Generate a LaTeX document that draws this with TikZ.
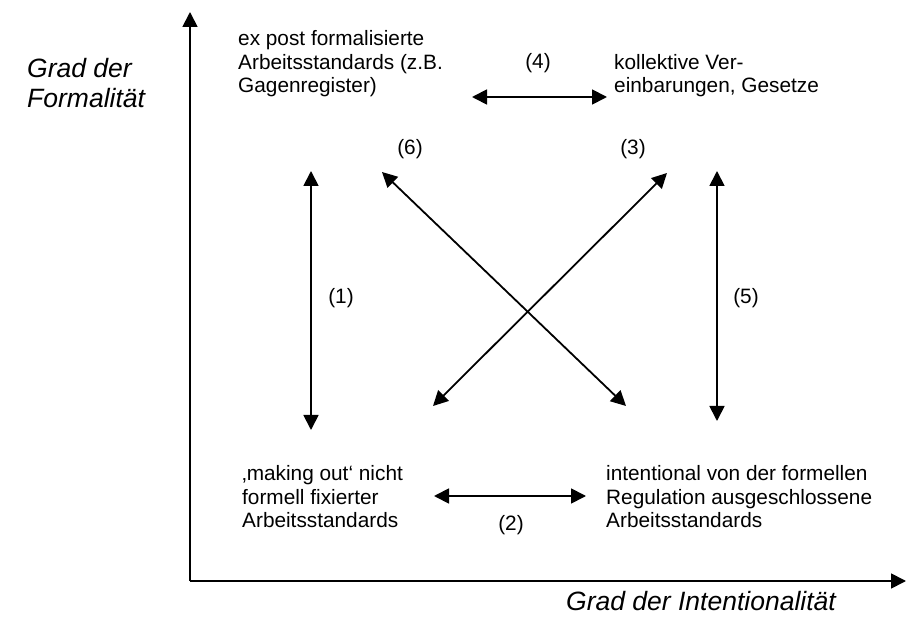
\documentclass[tikz,border=0pt]{standalone}
\usepackage{fontspec}
\setmainfont{Liberation Sans}
\usetikzlibrary{arrows.meta}
\begin{document}
\begin{tikzpicture}[x=1pt,y=-1pt,
  body/.style={inner sep=0pt,anchor=base west,align=left,font=\fontsize{20.8}{23.6}\selectfont},
  num/.style={inner sep=0pt,anchor=base,font=\fontsize{20.8}{23.6}\selectfont},
  axlabel/.style={inner sep=0pt,anchor=base west,align=left,font=\fontsize{26.5}{30}\selectfont\itshape},
  axis/.style={line width=1.8pt,-{Triangle[length=15pt,width=15pt]}},
  link/.style={line width=1.8pt,{Triangle[length=15pt,width=15pt]}-{Triangle[length=15pt,width=15pt]}}]
\useasboundingbox (0,0) rectangle (906,636);
% axes
\coordinate (O) at (190,581);
\coordinate (Ytip) at (190,12);
\coordinate (Xtip) at (906,581);
\draw[axis] (O) -- (Ytip);
\draw[axis] (O) -- (Xtip);
\node[axlabel] (ylab) at (27,108) {Grad der\\Formalität};
\node[axlabel] (xlab) at (566,610) {Grad der Intentionalität};
% text blocks (anchor = baseline of last line)
\node[body] (tl) at (238,93) {ex post formalisierte\\Arbeitsstandards (z.B.\\Gagenregister)};
\node[body] (tr) at (614,93) {kollektive Ver-\\einbarungen, Gesetze};
\node[body] (bl) at (242,528) {‚making out‘ nicht\\formell fixierter\\Arbeitsstandards};
\node[body] (br) at (606,528) {intentional von der formellen\\Regulation ausgeschlossene\\Arbeitsstandards};
% connector end points
\coordinate (a4l) at (472,97);  \coordinate (a4r) at (607,97);
\coordinate (a1t) at (311,171); \coordinate (a1b) at (311,430);
\coordinate (a5t) at (717,171); \coordinate (a5b) at (717,421);
\coordinate (a6t) at (382,172); \coordinate (a6b) at (626,406);
\coordinate (a3t) at (667,173); \coordinate (a3b) at (433,406);
\coordinate (a2l) at (434,496); \coordinate (a2r) at (586,496);
\draw[link] (a4l) -- (a4r);
\draw[link] (a1t) -- (a1b);
\draw[link] (a5t) -- (a5b);
\draw[link] (a6t) -- (a6b);
\draw[link] (a3t) -- (a3b);
\draw[link] (a2l) -- (a2r);
% numbers
\node[num] (n4) at (538,69) {(4)};
\node[num] (n6) at (410,155) {(6)};
\node[num] (n3) at (633,155) {(3)};
\node[num] (n1) at (341,304) {(1)};
\node[num] (n5) at (746,304) {(5)};
\node[num] (n2) at (511,530) {(2)};
\end{tikzpicture}
\end{document}
